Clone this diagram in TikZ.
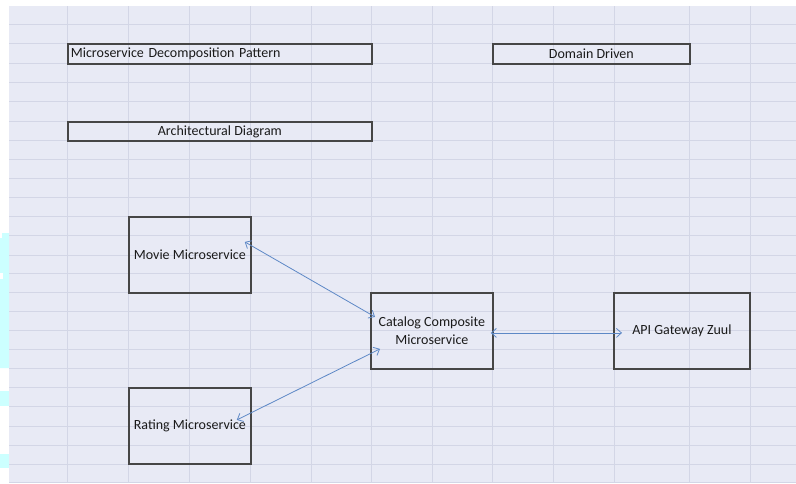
\documentclass[tikz,border=0pt]{standalone}
\usepackage{fontspec}
\setmainfont{Carlito}
\usetikzlibrary{arrows.meta}
\definecolor{sheetbg}{HTML}{E8EAF5}
\definecolor{gridln}{HTML}{D3D6E6}
\definecolor{boxln}{HTML}{464646}
\definecolor{arrowln}{HTML}{5D88C6}
\definecolor{cyanpatch}{HTML}{CCFFFF}
\definecolor{txt}{HTML}{1A1A1A}
\tikzset{
  cellbox/.style={draw=boxln, line width=1.8pt, rectangle, inner sep=0pt, anchor=north west, font=\fontsize{14}{18}\selectfont, text=txt, align=center},
  link/.style={draw=arrowln, line width=0.8pt, {Straight Barb[length=5pt,width=9pt]}-{Straight Barb[length=5pt,width=9pt]}}
}
\begin{document}
\begin{tikzpicture}[x=1pt,y=-1pt]
\useasboundingbox (0,0) rectangle (796,483);
\fill[white] (0,0) rectangle (796,483);
\fill[sheetbg] (9,6) rectangle (796,483);
% left cyan artifacts
\fill[cyanpatch] (2,233) -- (9,233) -- (9,368) -- (0,368) -- (0,238) -- (2,238) -- cycle;
\fill[white] (0,273) rectangle (3,279);
\fill[cyanpatch] (0,391) rectangle (9,406);
\fill[cyanpatch] (0,454) rectangle (9,468);
% grid
\foreach \gx in {67,128,189,250,311,371,432,492,553,614,689,750}
  \draw[gridln, line width=0.9pt] (\gx,6) -- (\gx,483);
\foreach \gy in {24,43,63,82,101,121,140,159,178,197,216,235,255,273,292,311,330,349,368,387,406,426,445,464,482}
  \draw[gridln, line width=0.9pt] (9,\gy) -- (796,\gy);
% title boxes
\node[cellbox, minimum height=20pt, text width=298pt, inner xsep=3pt, align=left] (title) at (67,43) {Microservice Decomposition Pattern};
\node[cellbox, minimum width=197pt, minimum height=20pt] (domain) at (492,43) {Domain Driven};
\node[cellbox, minimum width=304pt, minimum height=19pt] (arch) at (67,121) {Architectural Diagram};
% service boxes
\node[cellbox, minimum width=122pt, minimum height=76pt] (movie) at (128,216) {Movie Microservice};
\node[cellbox, minimum width=122pt, minimum height=76pt] (rating) at (128,387) {Rating Microservice};
\node[cellbox, minimum width=122pt, minimum height=76pt] (catalog) at (370,292) {Catalog Composite\\Microservice};
\node[cellbox, minimum width=136pt, minimum height=76pt] (api) at (613,292) {API Gateway Zuul};
% connectors
\draw[link] ([xshift=-7pt,yshift=13pt]movie.east) -- ([xshift=5pt,yshift=14pt]catalog.west);
\draw[link] ([xshift=-15pt,yshift=6pt]rating.east) -- ([xshift=10pt,yshift=-18pt]catalog.west);
\draw[link] ([xshift=-3pt,yshift=-2pt]catalog.east) -- ([xshift=9pt,yshift=-2pt]api.west);
\end{tikzpicture}
\end{document}
